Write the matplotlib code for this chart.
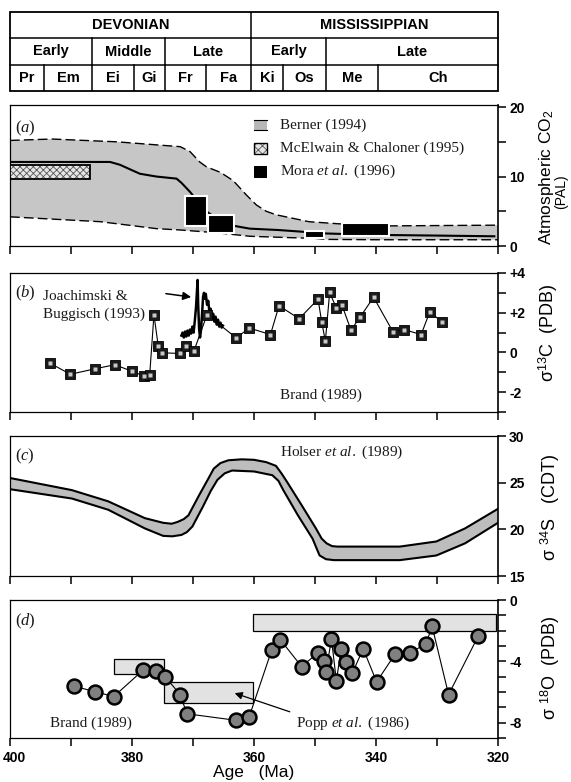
import matplotlib as mpl
mpl.use('Agg')
import matplotlib.pyplot as plt
import matplotlib.transforms as mtransforms
from matplotlib.patches import Rectangle

mpl.rcParams['font.family'] = 'Liberation Sans'
mpl.rcParams['mathtext.fontset'] = 'custom'
mpl.rcParams['mathtext.rm'] = 'Liberation Sans'
mpl.rcParams['mathtext.it'] = 'Liberation Serif:italic'
mpl.rcParams['hatch.linewidth'] = 0.6

# ---------------- timescale table ----------------
period_bounds = [400, 360.5, 320]
period_names = ['DEVONIAN', 'MISSISSIPPIAN']
epoch_bounds = [400, 386.6, 374.6, 360.5, 348.2, 320]
epoch_names = ['Early', 'Middle', 'Late', 'Early', 'Late']
stage_bounds = [400, 394.4, 386.6, 379.7, 374.6, 367.8, 360.5, 355.2, 348.2, 339.7, 320]
stage_names = ['Pr', 'Em', 'Ei', 'Gi', 'Fr', 'Fa', 'Ki', 'Os', 'Me', 'Ch']

# ---------------- (a) CO2 ----------------
berner_hi_age = [400, 393.1, 382.5, 372.1, 370.5, 368.9, 367.8, 365.5, 363.4, 361.2, 359.6,
                 358, 356.4, 351, 346.2, 337.5, 320]
berner_hi = [15.2, 15.4, 15.0, 14.3, 13.6, 12.1, 11.4, 10.6, 9.4, 7.3, 5.9,
             5.0, 4.5, 3.5, 3.2, 2.9, 3.0]
berner_lo_age = [400, 385.2, 376.0, 372, 366, 360.7, 354, 350, 348, 340, 330, 320]
berner_lo = [4.2, 3.5, 2.5, 2.3, 1.9, 1.4, 1.2, 1.1, 0.95, 0.9, 0.9, 0.9]
berner_mid_age = [399.7, 390, 383.6, 382.0, 378.7, 376.0, 372.7, 371.9, 370.5, 369.1, 367.8,
                  366.1, 363.9, 360.7, 356, 352.8, 348.1, 340, 330, 320.6]
berner_mid = [12.1, 12.1, 12.1, 11.7, 10.4, 10.0, 9.7, 9.1, 7.8, 6.3, 5.0,
              3.9, 3.0, 2.5, 2.3, 2.1, 1.8, 1.6, 1.5, 1.4]
mcelwain_age = [400, 386.9]
mcelwain_co2 = [9.6, 11.65]
mora_old = [371.3, 367.5, 351.7, 345.5]
mora_young = [367.7, 363.3, 348.6, 337.8]
mora_lo = [2.9, 1.9, 1.1, 1.45]
mora_hi = [7.2, 4.5, 2.2, 3.35]

# ---------------- (b) d13C ----------------
brand_c_age = [393.4, 390.1, 386.0, 382.8, 380.0, 378.1, 377.1, 376.4, 375.7, 375.1, 372.1,
               371.1, 369.85, 367.7, 362.9, 360.8, 357.3, 355.9, 352.6, 349.5, 348.9, 348.3,
               347.6, 346.5, 345.6, 344.1, 342.6, 340.4, 337.2, 335.4, 332.6, 331.2, 329.1]
brand_c = [-0.55, -1.1, -0.82, -0.62, -0.95, -1.18, -1.13, 1.9, 0.32, -0.02, -0.05,
           0.32, 0.07, 1.9, 0.73, 1.23, 0.9, 2.35, 1.7, 2.68, 1.53, 0.57,
           3.02, 2.23, 2.4, 1.12, 1.78, 2.78, 1.03, 1.15, 0.9, 2.03, 1.53]
joach_age = [371.9, 371.7, 371.5, 371.3, 371.1, 370.9, 370.7, 370.5, 370.3, 370.1, 369.9,
             369.7, 369.5, 369.35, 369.25, 369.15, 369.0, 368.85, 368.7, 368.5, 368.35,
             368.2, 368.05, 367.9, 367.7, 367.5, 367.3, 367.1, 366.9, 366.7, 366.5, 366.3,
             366.1, 365.9, 365.7, 365.5, 365.3, 365.1]
joach_c = [0.85, 1.0, 0.75, 1.05, 0.8, 1.1, 0.85, 1.15, 0.95, 1.3, 1.0,
           1.6, 2.3, 3.1, 3.65, 2.4, 1.2, 0.75, 1.1, 2.0, 2.8,
           3.0, 2.7, 2.95, 2.4, 2.6, 2.0, 2.2, 1.7, 1.95, 1.55, 1.8,
           1.4, 1.65, 1.3, 1.5, 1.25, 1.35]

# ---------------- (c) d34S ----------------
holser_hi_age = [400, 389.85, 383.9, 377.9, 374.9, 373.5, 372.5, 371.5, 370.75, 368.96, 367.6,
                 366.6, 365.5, 364.2, 362, 360, 358, 356.4, 355.5, 354.6, 352.2, 349.85,
                 348.9, 348.1, 347.2, 346.3, 336.1, 330.1, 325.4, 320]
holser_hi = [25.5, 24.2, 23.0, 21.2, 20.7, 20.6, 20.8, 21.1, 21.5, 23.7, 25.3,
             26.5, 27.1, 27.4, 27.5, 27.45, 27.2, 26.8, 26.0, 25.1, 22.6, 20.1,
             19.0, 18.5, 18.2, 18.15, 18.15, 18.7, 20.1, 22.2]
holser_lo_age = [400, 389.85, 383.9, 377.9, 374.9, 373.4, 371.9, 371.0, 370.1, 368.4, 367.1,
                 366.0, 364.8, 363.6, 360, 357.0, 356.0, 355.2, 352.8, 350.4, 349.7, 349.25,
                 348.2, 346.9, 336.1, 330.1, 325.4, 320]
holser_lo = [24.3, 23.3, 22.1, 20.1, 19.3, 19.25, 19.4, 19.7, 20.3, 22.4, 24.1,
             25.3, 26.0, 26.3, 26.2, 25.8, 25.2, 24.2, 21.5, 19.0, 17.9, 17.2,
             16.8, 16.7, 16.7, 17.2, 18.5, 20.7]

# ---------------- (d) d18O ----------------
brand_o_age = [389.5, 386.0, 383.0, 378.2, 376.1, 374.6, 372.1, 371.0, 362.9, 360.8, 357.1,
               355.7, 352.2, 349.5, 348.6, 348.2, 347.3, 346.5, 345.7, 344.9, 343.9, 342.1,
               339.9, 336.9, 334.5, 331.8, 330.8, 328.1, 323.2]
brand_o = [-5.63, -5.98, -6.30, -4.58, -4.66, -4.99, -6.17, -7.42, -7.85, -7.63, -3.27,
           -2.58, -4.34, -3.44, -3.98, -4.69, -2.54, -5.27, -3.18, -4.05, -4.79, -3.18,
           -5.34, -3.55, -3.48, -2.84, -1.72, -6.17, -2.32]
popp_old = [383.0, 374.8, 360.2]
popp_young = [374.8, 360.2, 320.4]
popp_lo = [-4.84, -6.71, -2.04]
popp_hi = [-3.87, -5.33, -0.90]

co2_ticks, co2_labels = [0, 10, 20], ['0', '10', '20']
c_ticks, c_labels = [-2, 0, 2, 4], ['-2', '0', '+2', '+4']
s_ticks, s_labels = [15, 20, 25, 30], ['15', '20', '25', '30']
o_ticks, o_labels = [-8, -4, 0], ['-8', '-4', '0']
age_ticks, age_labels = [400, 380, 360, 340, 320], ['400', '380', '360', '340', '320']

# ---------------- layout ----------------
W, H = 571, 782
fig = plt.figure(figsize=(W / 100, H / 100), dpi=100)
SERIF = 'Liberation Serif'
TXT = '#1a1a1a'


def add_ax(top, bottom):
    return fig.add_axes([10 / W, 1 - bottom / H, 488 / W, (bottom - top) / H])


def style(ax, ylim, ticks, labels, minor):
    ax.set_xlim(400, 320)
    ax.set_ylim(*ylim)
    ax.yaxis.tick_right()
    ax.set_yticks(ticks)
    ax.set_yticklabels(labels, fontweight='bold', fontsize=10)
    ax.set_yticks(minor, minor=True)
    ax.tick_params(axis='y', which='major', direction='out', length=6, width=1.1, pad=2)
    ax.tick_params(axis='y', which='minor', direction='out', length=6, width=1.1)
    ax.set_xticks(age_ticks)
    ax.set_xticks([390, 370, 350, 330], minor=True)
    ax.tick_params(axis='x', which='both', direction='out', length=6, width=1.1,
                   labelbottom=False)
    for s in ax.spines.values():
        s.set_linewidth(0.9)
    ax.spines['right'].set_linewidth(1.2)


# timescale table
axt = add_ax(12, 91)
axt.set_xlim(400, 320)
axt.set_ylim(0, 3)
axt.axis('off')
axt.add_patch(Rectangle((320, 0), 80, 3, fill=False, lw=1.3, ec='k', clip_on=False))
axt.plot([400, 320], [1, 1], color='k', lw=1.1, clip_on=False)
axt.plot([400, 320], [2, 2], color='k', lw=1.1, clip_on=False)
for row, bounds, names in [(2, period_bounds, period_names),
                           (1, epoch_bounds, epoch_names),
                           (0, stage_bounds, stage_names)]:
    for b in bounds[1:-1]:
        axt.plot([b, b], [row, row + 1], color='k', lw=1.1)
    for i, nm in enumerate(names):
        axt.text((bounds[i] + bounds[i + 1]) / 2, row + 0.5, nm, ha='center', va='center',
                 fontsize=10.5, fontweight='bold')

# (a)
axa = add_ax(105, 246)
style(axa, (0, 20.3), co2_ticks, co2_labels, [5, 15])
poly_x = list(berner_hi_age) + list(berner_lo_age[::-1])
poly_y = list(berner_hi) + list(berner_lo[::-1])
axa.fill(poly_x, poly_y, color='#c6c6c6', lw=0, zorder=1)
axa.plot(berner_hi_age, berner_hi, color='k', lw=1.0, ls=(0, (7, 3)), zorder=2)
axa.plot(berner_lo_age, berner_lo, color='k', lw=1.0, ls=(0, (7, 3)), zorder=2)
axa.plot(berner_mid_age, berner_mid, color='k', lw=1.5, zorder=2)
mx0, mx1 = mcelwain_age
my0, my1 = mcelwain_co2
axa.add_patch(Rectangle((mx1, my0), mx0 - mx1, my1 - my0, fc='#e6e6e6', ec='#555',
                        hatch='xxxxx', lw=0, zorder=3))
axa.add_patch(Rectangle((mx1, my0), mx0 - mx1, my1 - my0, fill=False, ec='k', lw=1.3, zorder=3))
for o, y_, lo, hi in zip(mora_old, mora_young, mora_lo, mora_hi):
    axa.add_patch(Rectangle((y_, lo), o - y_, hi - lo, fc='k', ec='white', lw=1.5, zorder=4))
# legend
axa.add_patch(Rectangle((357.9, 16.7), 2.1, 1.5, fc='#b8b8b8', lw=0, zorder=3))
axa.plot([360, 357.9], [18.2, 18.2], color='k', lw=0.8, zorder=3)
axa.plot([360, 357.9], [16.7, 16.7], color='k', lw=0.8, zorder=3)
axa.add_patch(Rectangle((357.9, 13.3), 2.1, 1.5, fc='#e6e6e6', ec='#555', hatch='xxxx',
                        lw=0, zorder=3))
axa.add_patch(Rectangle((357.9, 13.3), 2.1, 1.5, fill=False, ec='k', lw=1.0, zorder=3))
axa.add_patch(Rectangle((357.9, 9.8), 2.1, 1.7, fc='k', lw=0, zorder=3))
axa.text(355.8, 17.4, 'Berner (1994)', family=SERIF, fontsize=11, va='center', color=TXT)
axa.text(355.8, 14.05, 'McElwain & Chaloner (1995)', family=SERIF, fontsize=11, va='center',
         color=TXT)
axa.text(355.8, 10.7, r'Mora $\mathit{et\ al.}$ (1996)', family=SERIF, fontsize=11,
         va='center', color=TXT)
axa.text(399.1, 16.9, r'($\mathit{a}$)', family=SERIF, fontsize=12, va='center', color=TXT)

# (b)
axb = add_ax(273, 412)
style(axb, (-3, 4), c_ticks, c_labels, [-3, -1, 1, 3])
axb.plot(joach_age, joach_c, color='k', lw=1.8, zorder=2)
axb.plot(brand_c_age, brand_c, color='k', lw=0.8, zorder=2)
axb.plot(brand_c_age, brand_c, 's', ms=6.5, mfc='#1a1a1a', mec='k', mew=0.6, zorder=3)
axb.plot(brand_c_age, brand_c, 's', ms=2.2, mfc='#c8c8c8', mec='none', zorder=4)
axb.annotate('', xy=(369.85, 2.77), xytext=(374.9, 2.98),
             arrowprops=dict(arrowstyle='-|>', color='k', lw=1.1, mutation_scale=12))
axb.text(399.1, 2.98, r'($\mathit{b}$)', family=SERIF, fontsize=12, va='center', color=TXT)
axb.text(394.6, 2.82, 'Joachimski &', family=SERIF, fontsize=11, va='center', color=TXT)
axb.text(394.6, 1.9, 'Buggisch (1993)', family=SERIF, fontsize=11, va='center', color=TXT)
axb.text(355.8, -2.18, 'Brand (1989)', family=SERIF, fontsize=11, va='center', color=TXT)

# (c)
axc = add_ax(436, 576)
style(axc, (15, 30), s_ticks, s_labels, [])
axc.fill(list(holser_hi_age) + list(holser_lo_age[::-1]),
         list(holser_hi) + list(holser_lo[::-1]), color='#bdbdbd', lw=0, zorder=1)
axc.plot(holser_hi_age, holser_hi, color='k', lw=1.5, zorder=2)
axc.plot(holser_lo_age, holser_lo, color='k', lw=1.5, zorder=2)
axc.text(399.1, 27.8, r'($\mathit{c}$)', family=SERIF, fontsize=12, va='center', color=TXT)
axc.text(355.8, 28.3, r'Holser $\mathit{et\ al.}$ (1989)', family=SERIF, fontsize=11,
         va='center', color=TXT)

# (d)
axd = add_ax(600, 738)
style(axd, (-9, 0), o_ticks, o_labels, [-9, -7, -6, -5, -3, -2, -1])
axd.tick_params(axis='x', which='both', labelbottom=True)
axd.set_xticklabels(age_labels, fontweight='bold', fontsize=10)
first = axd.get_xticklabels()[0]
first.set_transform(first.get_transform() +
                    mtransforms.ScaledTranslation(3 / 72, 0, fig.dpi_scale_trans))
for o, y_, lo, hi in zip(popp_old, popp_young, popp_lo, popp_hi):
    axd.add_patch(Rectangle((y_, lo), o - y_, hi - lo, fc='#e2e2e2', ec='k', lw=0.9, zorder=1))
axd.plot(brand_o_age, brand_o, color='k', lw=0.8, zorder=2)
axd.plot(brand_o_age, brand_o, 'o', ms=10, mfc='#808080', mec='k', mew=1.8, zorder=3)
axd.annotate('', xy=(363.6, -6.02), xytext=(353.7, -7.35),
             arrowprops=dict(arrowstyle='-|>', color='k', lw=0.9, mutation_scale=11))
axd.text(399.1, -1.4, r'($\mathit{d}$)', family=SERIF, fontsize=12, va='center', color=TXT)
axd.text(393.4, -8.06, 'Brand (1989)', family=SERIF, fontsize=11, va='center', color=TXT)
axd.text(353.1, -8.06, r'Popp $\mathit{et\ al.}$ (1986)', family=SERIF, fontsize=11,
         va='center', color=TXT)
axd.set_xlabel('Age   (Ma)', fontsize=12.5, labelpad=0)

# right-hand labels
fig.text(546 / W, 1 - 177 / H, 'Atmospheric CO$_2$', rotation=90, ha='center', va='center',
         fontsize=12.5)
fig.text(561 / W, 1 - 192 / H, '(PAL)', rotation=90, ha='center', va='center', fontsize=10)
fig.text(548 / W, 1 - 333 / H, r'σ$^{13}$C  (PDB)', rotation=90, ha='center', va='center',
         fontsize=13)
fig.text(550 / W, 1 - 507 / H, r'σ $^{34}$S   (CDT)', rotation=90, ha='center', va='center',
         fontsize=13)
fig.text(550 / W, 1 - 668 / H, r'σ $^{18}$O  (PDB)', rotation=90, ha='center', va='center',
         fontsize=13)

fig.savefig('out.png', dpi=100)
